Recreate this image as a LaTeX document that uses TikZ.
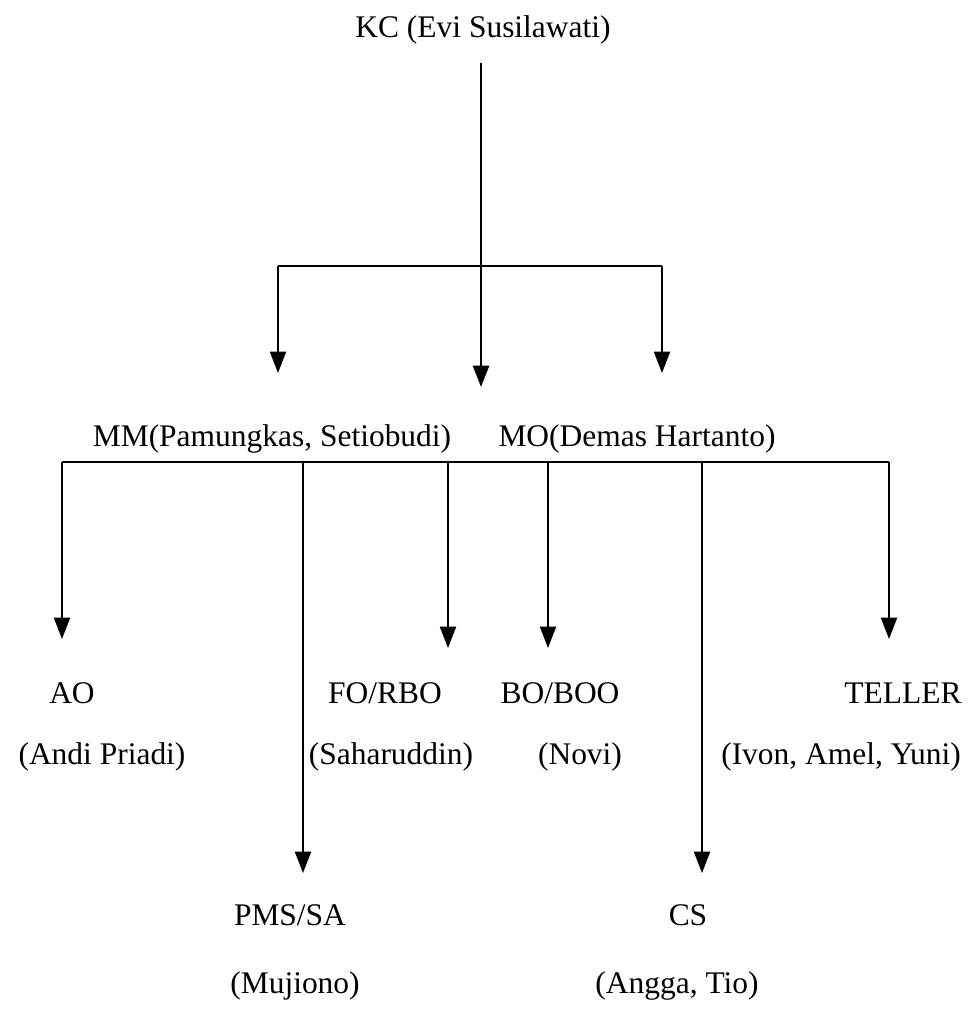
\documentclass[tikz,border=0pt]{standalone}
\usepackage{fontspec}
\setmainfont{Liberation Serif}
\usetikzlibrary{arrows.meta}
\begin{document}
\begin{tikzpicture}[x=0.75pt,y=-0.75pt,
  lbl/.style={inner sep=0pt,anchor=base,font=\fontsize{23.6}{28}\selectfont},
  conn/.style={line width=1.5pt},
  arr/.style={conn,-{Triangle[length=16pt,width=12pt]}}]
\useasboundingbox (0,0) rectangle (972,1011);
% nodes
\node[lbl] (kc) at (483,37) {KC (Evi Susilawati)};
\node[lbl] (mm) at (272,446) {MM(Pamungkas, Setiobudi)};
\node[lbl] (mo) at (637,446) {MO(Demas Hartanto)};
\node[lbl] (ao) at (72,703) {AO};
\node[lbl] (aon) at (102,764) {(Andi Priadi)};
\node[lbl] (fo) at (385,703) {FO/RBO};
\node[lbl] (fon) at (391,764) {(Saharuddin)};
\node[lbl] (bo) at (560,703) {BO/BOO};
\node[lbl] (bon) at (580,764) {(Novi)};
\node[lbl] (te) at (903,703) {TELLER};
\node[lbl] (ten) at (841,764) {(Ivon, Amel, Yuni)};
\node[lbl] (pms) at (290,925) {PMS/SA};
\node[lbl] (pmsn) at (295,993) {(Mujiono)};
\node[lbl] (cs) at (688,925) {CS};
\node[lbl] (csn) at (677,993) {(Angga, Tio)};
% coordinates
\coordinate (kcb) at (481,63);
\coordinate (h1c) at (481,266);
\coordinate (h1l) at (278,266);
\coordinate (h1r) at (662,266);
\coordinate (t1l) at (278,373);
\coordinate (t1c) at (481,387);
\coordinate (t1r) at (662,373);
\coordinate (h2a) at (62,462);
\coordinate (h2b) at (303,462);
\coordinate (h2c) at (448,462);
\coordinate (h2d) at (548,462);
\coordinate (h2e) at (702,462);
\coordinate (h2f) at (889,462);
\coordinate (ta) at (62,639);
\coordinate (tb) at (303,873);
\coordinate (tc) at (448,648);
\coordinate (td) at (548,648);
\coordinate (te) at (702,873);
\coordinate (tf) at (889,639);
% connectors
\draw[conn] (kcb) -- (h1c);
\draw[conn] (h1l) -- (h1r);
\draw[arr] (h1l) -- (t1l);
\draw[arr] (h1r) -- (t1r);
\draw[arr,line width=2pt] (481,250) -- (t1c);
\draw[conn] (h2a) -- (h2f);
\draw[arr] (h2a) -- (ta);
\draw[arr] (h2b) -- (tb);
\draw[arr] (h2c) -- (tc);
\draw[arr] (h2d) -- (td);
\draw[arr] (h2e) -- (te);
\draw[arr] (h2f) -- (tf);
\end{tikzpicture}
\end{document}
